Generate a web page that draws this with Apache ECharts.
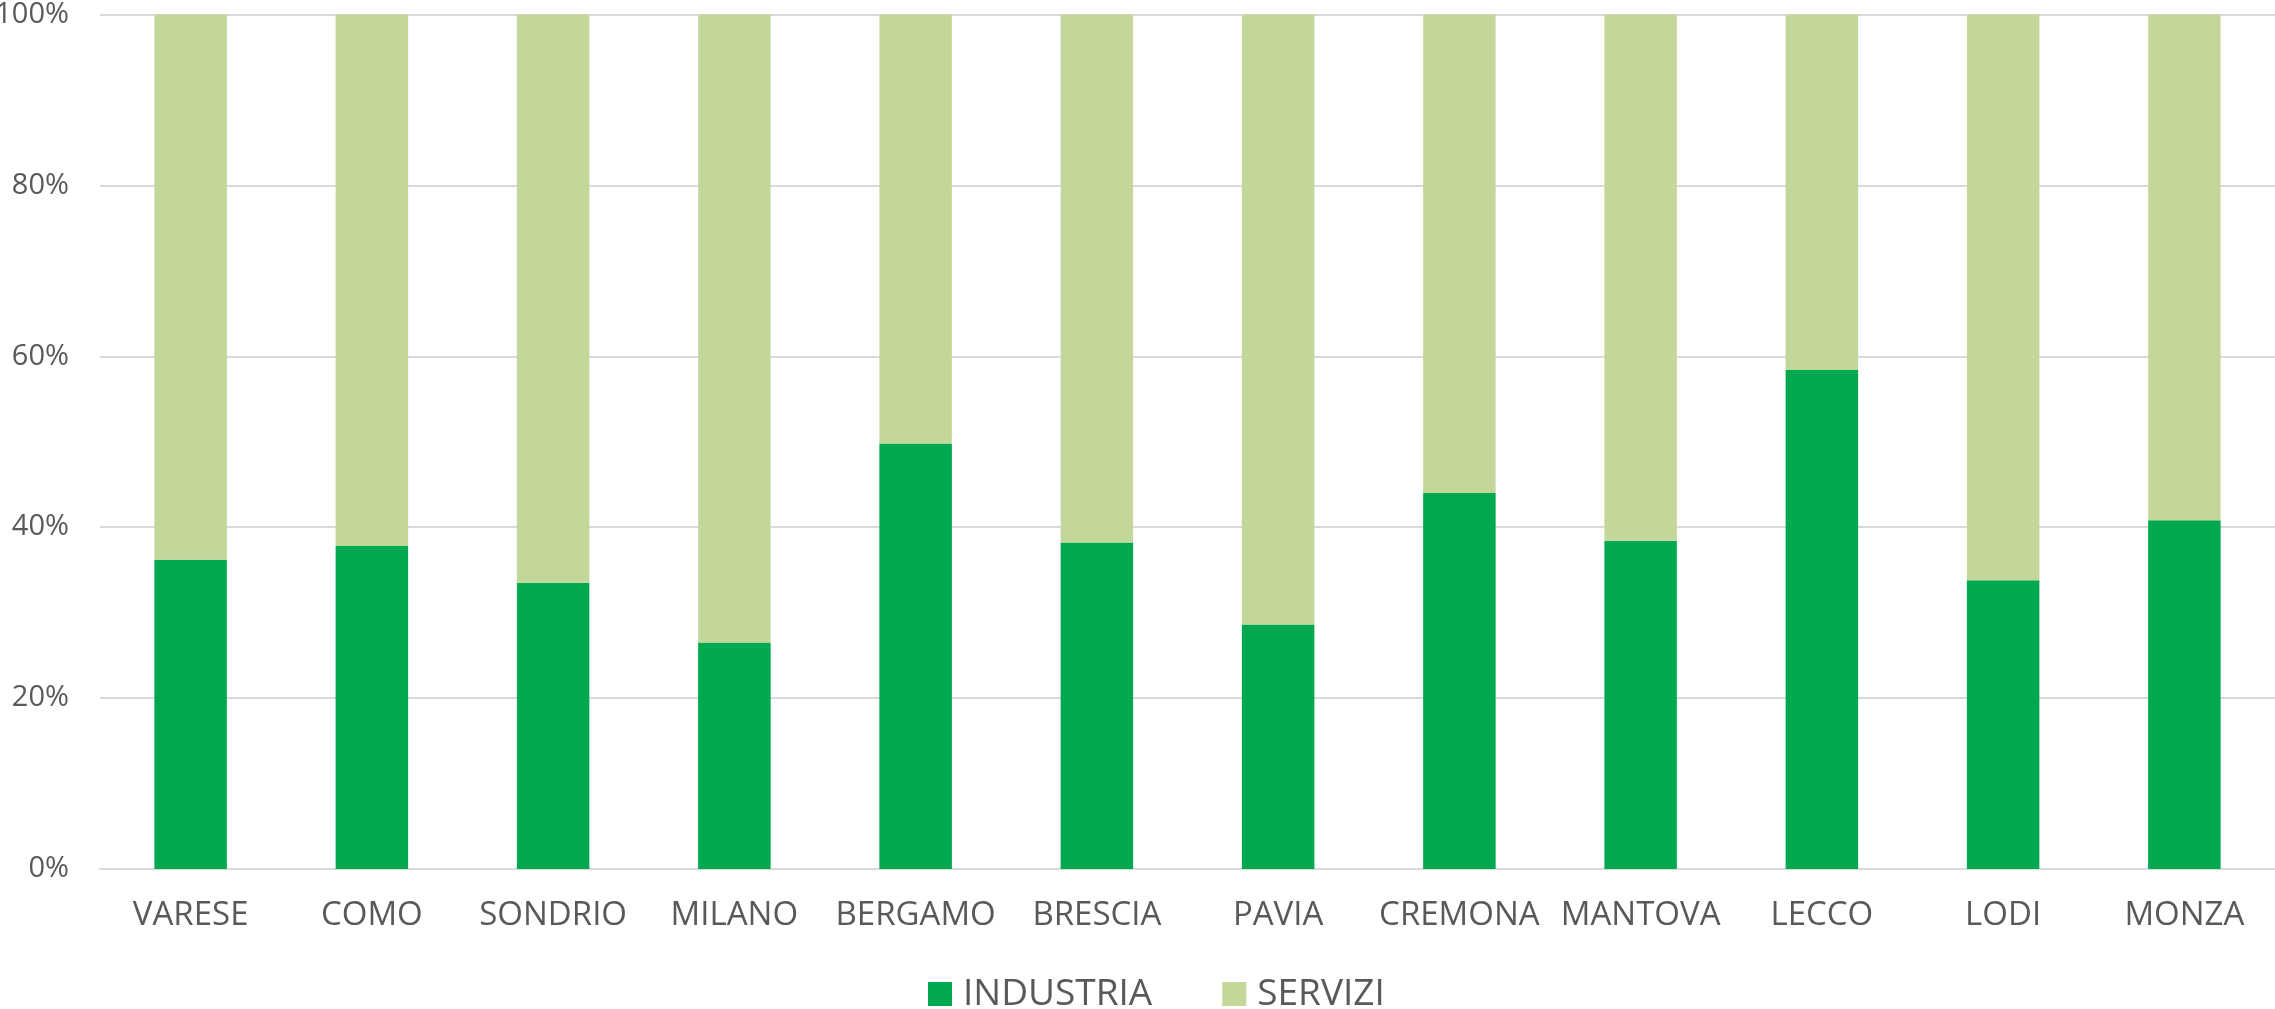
<!DOCTYPE html>
<html lang="it">
<head>
    <meta charset="UTF-8">
    <title>Industria / Servizi</title>
    <script src="https://cdn.jsdelivr.net/npm/echarts@6/dist/echarts.min.js"></script>
    <style>
        html, body { margin: 0; padding: 0; background: #fff; }
        #main { width: 2275px; height: 1009px; }
    </style>
</head>
<body>
<div id="main"></div>

<script type="text/javascript">
    // dati
    var province = ['VARESE', 'COMO', 'SONDRIO', 'MILANO', 'BERGAMO', 'BRESCIA', 'PAVIA', 'CREMONA', 'MANTOVA', 'LECCO', 'LODI', 'MONZA'];
    var industria = [36.2, 37.8, 33.5, 26.5, 49.8, 38.2, 28.6, 44.0, 38.4, 58.4, 33.8, 40.8];
    var servizi = [63.8, 62.2, 66.5, 73.5, 50.2, 61.8, 71.4, 56.0, 61.6, 41.6, 66.2, 59.2];
    var yTicks = [0, 20, 40, 60, 80, 100];

    var font = '"Open Sans", sans-serif';
    var grigio = '#595959';

    var myChart = echarts.init(document.getElementById('main'));

    var option = {
        animation: false,
        color: ['#00A84F', '#C4D79B'],
        textStyle: { fontFamily: font },
        grid: {
            left: 100,
            right: 0,
            top: 14.5,
            bottom: 140,
            outerBoundsMode: 'none'
        },
        legend: {
            left: 923,
            top: 966,
            itemWidth: 24,
            itemHeight: 24,
            itemGap: 70,
            icon: 'rect',
            textStyle: {
                fontFamily: font,
                fontSize: 37,
                color: grigio,
                lineHeight: 46,
                padding: [0, 0, 0, 6]
            },
            data: ['INDUSTRIA', 'SERVIZI']
        },
        xAxis: {
            type: 'category',
            data: province,
            axisTick: { show: false },
            axisLine: { lineStyle: { color: '#D9D9D9', width: 2 } },
            axisLabel: {
                interval: 0,
                margin: 30,
                fontFamily: font,
                fontSize: 33,
                color: grigio
            }
        },
        yAxis: {
            type: 'value',
            min: yTicks[0],
            max: yTicks[yTicks.length - 1],
            interval: yTicks[1] - yTicks[0],
            axisLine: { show: false },
            axisTick: { show: false },
            splitLine: { lineStyle: { color: '#D9D9D9', width: 2 } },
            axisLabel: {
                margin: 31,
                fontFamily: font,
                fontSize: 29,
                color: grigio,
                formatter: '{value}%'
            }
        },
        series: [
            {
                name: 'INDUSTRIA',
                type: 'bar',
                stack: 'tot',
                barWidth: '40%',
                data: industria
            },
            {
                name: 'SERVIZI',
                type: 'bar',
                stack: 'tot',
                barWidth: '40%',
                data: servizi
            }
        ]
    };

    myChart.setOption(option);
</script>
</body>
</html>
